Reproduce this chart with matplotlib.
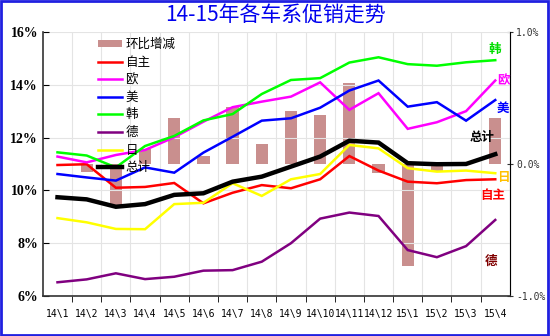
import matplotlib
matplotlib.use("Agg")
import matplotlib.pyplot as plt
from matplotlib.patches import Rectangle
from matplotlib.ticker import FuncFormatter, FixedLocator

plt.rcParams['font.family'] = ['Noto Sans CJK SC', 'DejaVu Sans']

months = ["14\\1", "14\\2", "14\\3", "14\\4", "14\\5", "14\\6", "14\\7", "14\\8",
          "14\\9", "14\\10", "14\\11", "14\\12", "15\\1", "15\\2", "15\\3", "15\\4"]

# share of promotion (%), by brand origin
zizhu = [10.96, 10.99, 10.10, 10.13, 10.28, 9.51, 9.91, 10.20, 10.08, 10.42, 11.30, 10.75, 10.33, 10.27, 10.39, 10.42]
ou = [11.28, 11.06, 11.34, 11.53, 12.01, 12.60, 13.15, 13.36, 13.55, 14.09, 13.05, 13.68, 12.33, 12.58, 13.00, 14.16]
mei = [10.62, 10.49, 10.37, 10.87, 10.67, 11.43, 12.03, 12.64, 12.73, 13.13, 13.78, 14.16, 13.17, 13.34, 12.64, 13.42]
han = [11.44, 11.32, 10.87, 11.68, 12.06, 12.65, 12.89, 13.65, 14.18, 14.25, 14.84, 15.04, 14.78, 14.72, 14.85, 14.93]
de = [6.52, 6.63, 6.86, 6.64, 6.73, 6.96, 6.98, 7.30, 8.00, 8.93, 9.16, 9.03, 7.74, 7.47, 7.89, 8.88]
ri = [8.95, 8.79, 8.54, 8.53, 9.48, 9.53, 10.27, 9.79, 10.42, 10.62, 11.72, 11.59, 10.84, 10.71, 10.75, 10.65]
zongji = [9.74, 9.66, 9.38, 9.48, 9.83, 9.89, 10.33, 10.52, 10.90, 11.28, 11.88, 11.81, 11.03, 10.99, 11.00, 11.37]

# month-on-month change of the total (%), right axis
huanbi = [0.0, -0.06, -0.31, 0.11, 0.35, 0.06, 0.43, 0.15, 0.40, 0.37, 0.61, -0.07, -0.77, -0.055, 0.015, 0.35]

series = [
    ("自主", zizhu, "#ff0000", 1.8),
    ("欧", ou, "#ff00ff", 1.8),
    ("美", mei, "#0000ff", 1.8),
    ("韩", han, "#00ff00", 1.8),
    ("德", de, "#800080", 1.8),
    ("日", ri, "#ffff00", 1.8),
    ("总计", zongji, "#000000", 3.2),
]

fig = plt.figure(figsize=(5.5, 3.36), dpi=100)
fig.patch.set_facecolor("white")
fig.patches.append(Rectangle((0.002, 0.004), 0.995, 0.993, transform=fig.transFigure,
                             fill=False, edgecolor="#2020e0", linewidth=2))

ax = fig.add_axes([0.078, 0.119, 0.849, 0.786])
ax2 = ax.twinx()
ax.set_zorder(ax2.get_zorder() + 1)
ax.patch.set_visible(False)

x = list(range(len(months)))

bars = ax2.bar(x, huanbi, width=0.42, color="#c98f8e", label="环比增减", zorder=2)
ax2.set_ylim(-1.0, 1.0)
ax2.yaxis.set_major_locator(FixedLocator([-1.0, 0.0, 1.0]))
ax2.yaxis.set_major_formatter(FuncFormatter(lambda v, p: f"{v:.1f}%".replace("\u2212", "-")))
ax2.tick_params(axis="y", direction="inout", length=5, labelsize=7, pad=2, colors="#333333")
for lab in ax2.get_yticklabels():
    lab.set_family("DejaVu Sans Mono")

lines = []
for name, vals, color, lw in series:
    ln, = ax.plot(x, vals, color=color, linewidth=lw, label=name, solid_joinstyle="miter")
    lines.append(ln)

ax.set_xlim(-0.5, len(months) - 0.5)
ax.set_ylim(6, 16)
ax.set_yticks([6, 8, 10, 12, 14, 16])
ax.yaxis.set_major_formatter(FuncFormatter(lambda v, p: f"{v:.0f}%"))
ax.tick_params(axis="y", direction="in", length=4, labelsize=10)
for lab in ax.get_yticklabels():
    lab.set_family("Liberation Serif")
    lab.set_fontweight("bold")

ax.set_xticks(x)
ax.set_xticklabels(months, fontsize=7, family="DejaVu Sans Mono")
ax.tick_params(axis="x", length=0, pad=9)
ax.set_xticks([i - 0.5 for i in range(1, len(months))], minor=True)
ax.tick_params(axis="x", which="minor", direction="out", length=4)

ax.grid(True, axis="y", color="#e4e4e4", linewidth=0.8)
ax.grid(True, axis="x", which="minor", color="#e4e4e4", linewidth=0.8)
ax.set_axisbelow(True)

for a in (ax, ax2):
    a.spines["top"].set_visible(False)
ax.spines["left"].set_color("#333333")
ax.spines["bottom"].set_color("#333333")
ax.spines["left"].set_linewidth(1.2)
ax.spines["bottom"].set_linewidth(1.2)
ax2.spines["right"].set_color("#999999")
ax2.spines["left"].set_visible(False)
ax2.spines["bottom"].set_visible(False)

ax.legend([bars] + lines, ["环比增减"] + [s[0] for s in series],
          loc="upper left", bbox_to_anchor=(0.094, 1.02), frameon=False,
          fontsize=9, labelspacing=0.37, handlelength=1.9, handletextpad=0.3,
          handleheight=0.5)

# labels at the end of each line
last = len(months) - 1
end_labels = [
    ("韩", han, "#00dd00", (0, 11)),
    ("欧", ou, "#ff00ff", (8, 0)),
    ("美", mei, "#0000ff", (8, -8)),
    ("总计", zongji, "#000000", (-13, 17)),
    ("日", ri, "#ffc000", (8, -4)),
    ("自主", zizhu, "#ff0000", (-3, -16)),
    ("德", de, "#800000", (-4, -41)),
]
for name, vals, color, off in end_labels:
    ax.annotate(name, (last, vals[last]), xytext=off, textcoords="offset pixels",
                ha="center", va="center", fontsize=9, fontweight="bold", color=color)

fig.text(0.5, 0.955, "14-15年各车系促销走势", ha="center", va="center",
         fontsize=15, color="#0000ee")

fig.savefig("out.png", dpi=100)
